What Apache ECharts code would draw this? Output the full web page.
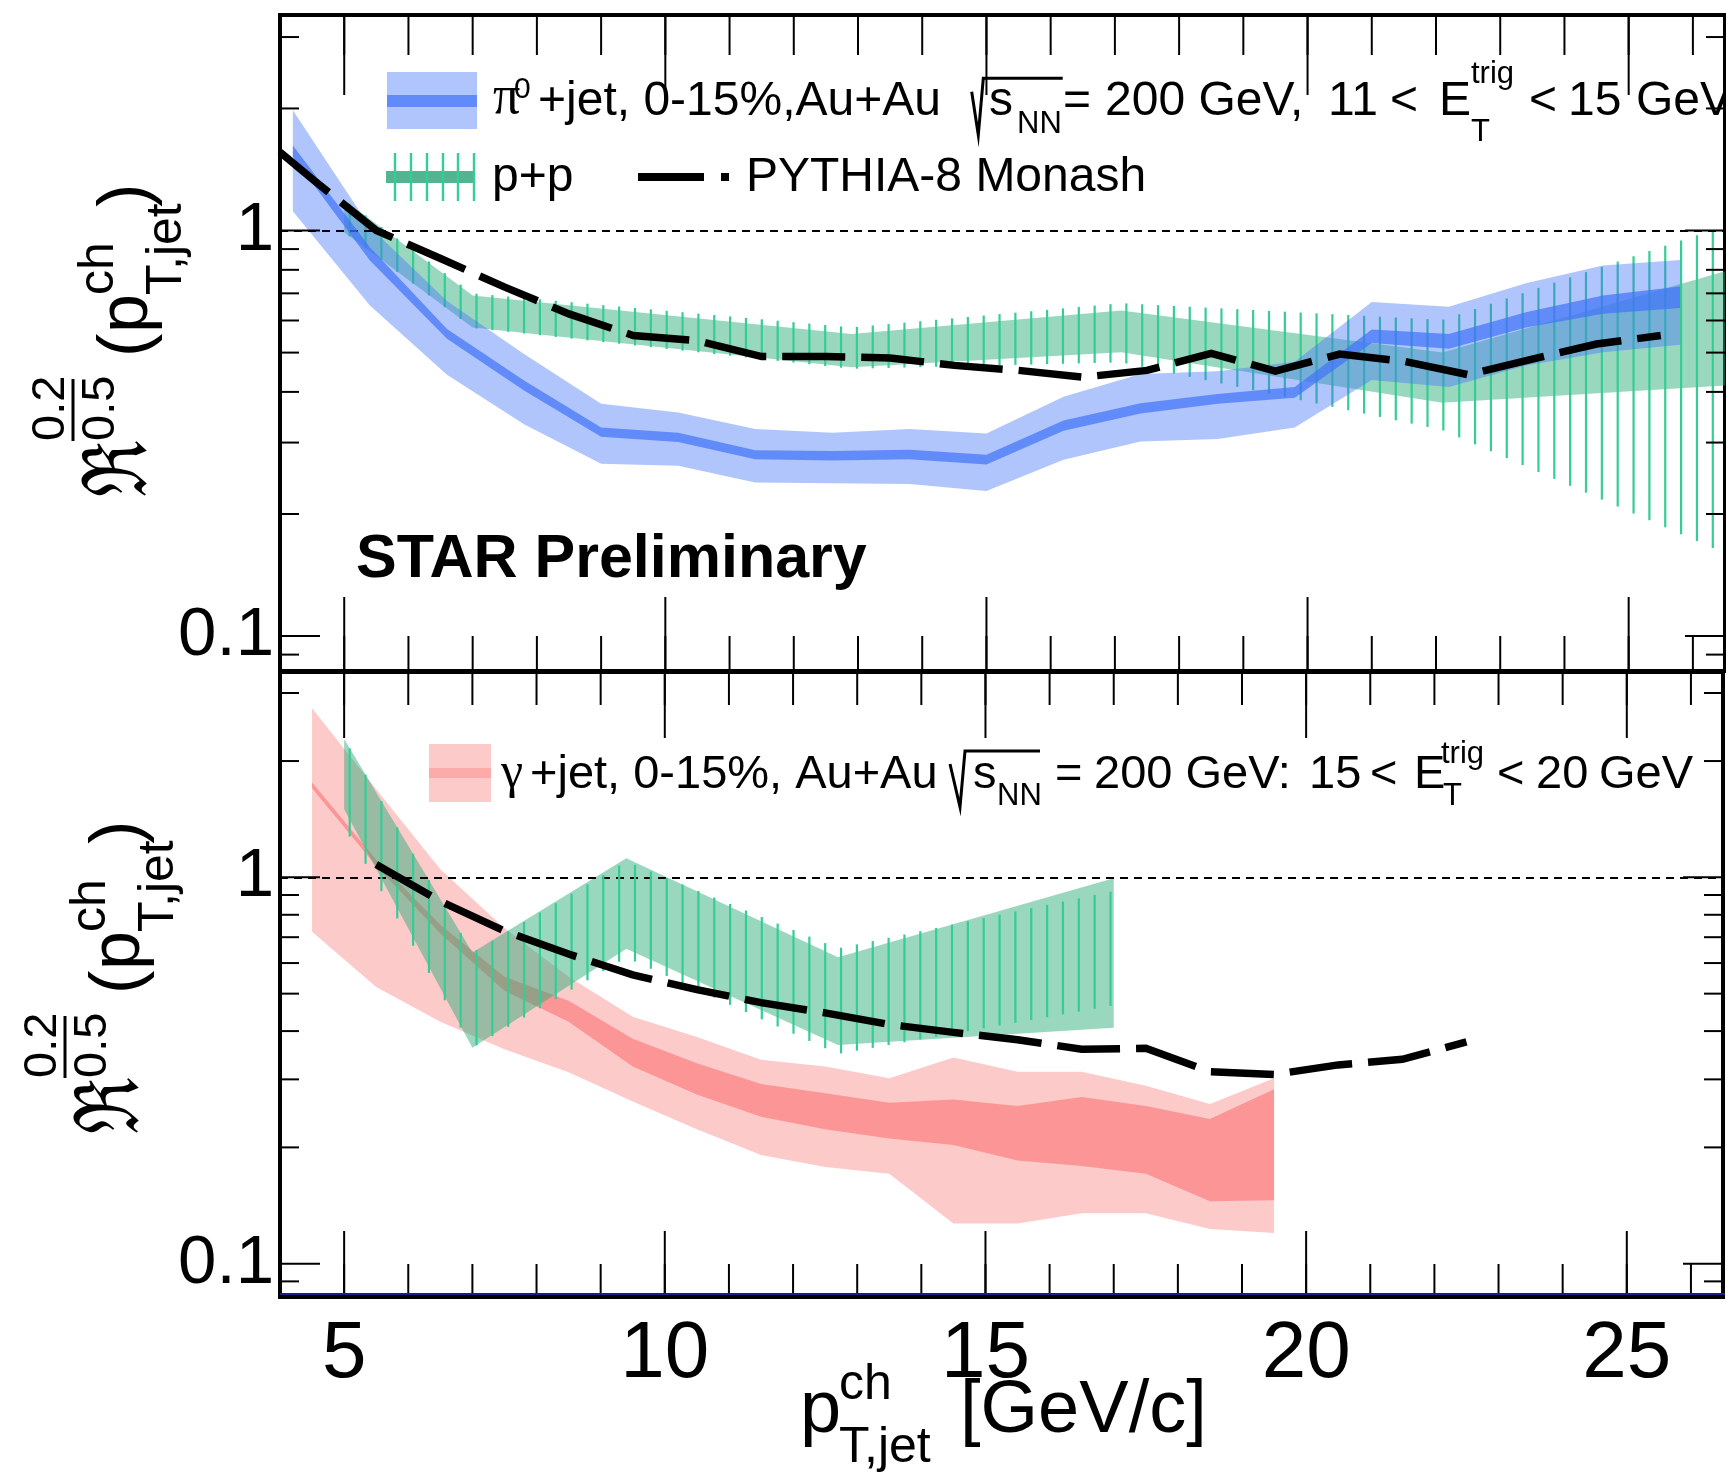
<!DOCTYPE html>
<html><head><meta charset="utf-8">
<script src="https://cdn.jsdelivr.net/npm/echarts@6/dist/echarts.min.js"></script>
<style>html,body{margin:0;padding:0;background:#fff}#c{width:1726px;height:1484px}</style>
</head><body><div id="c"></div>
<script>
// ---------------- data ----------------
const xMin = 4, xMax = 26.5, yMin = 0.082, yMax = 3.4;
const xMinorTicks = [5,6,7,8,9,10,11,12,13,14,15,16,17,18,19,20,21,22,23,24,25,26];
const xMajorTicks = [5,10,15,20,25];
const xLabelValues = [5,10,15,20,25];
const yMajorTicks = [0.1, 1];
const yMinorTicks = [0.09,0.2,0.3,0.4,0.5,0.6,0.7,0.8,0.9,2,3];

// top panel: pi0+jet Au+Au
const pi0X      = [4.2,5.4,6.6,7.8,9.0,10.2,11.4,12.6,13.8,15.0,16.2,17.4,18.6,19.8,21.0,22.2,23.4,24.6,25.8];
const pi0SysHi  = [1.98,1.02,0.67,0.496,0.374,0.356,0.324,0.317,0.324,0.316,0.389,0.443,0.450,0.475,0.666,0.649,0.741,0.820,0.846];
const pi0SysLo  = [1.116,0.653,0.441,0.333,0.266,0.263,0.239,0.238,0.237,0.228,0.272,0.302,0.306,0.327,0.428,0.411,0.465,0.501,0.523];
const pi0StatHi = [1.62,0.910,0.572,0.427,0.327,0.317,0.287,0.286,0.288,0.280,0.340,0.375,0.395,0.411,0.570,0.556,0.629,0.691,0.728];
const pi0StatLo = [1.52,0.843,0.541,0.403,0.310,0.301,0.273,0.271,0.273,0.265,0.321,0.354,0.374,0.387,0.528,0.511,0.577,0.623,0.644];

// top panel: p+p
const ppTopX       = [5.0,7.0,12.9,17.1,22.1,26.5];
const ppTopHi      = [1.19,0.691,0.556,0.635,0.50,0.794];
const ppTopLo      = [0.99,0.577,0.460,0.501,0.376,0.415];
const ppTopHatchHi = [1.19,0.70,0.577,0.662,0.602,1.027];
const ppTopHatchLo = [0.99,0.575,0.456,0.473,0.322,0.160];

// top panel: PYTHIA-8 Monash
const pyTopX = [4.0,4.5,5.5,6.5,7.5,8.5,9.5,10.5,11.5,12.5,13.5,14.5,15.5,16.5,17.5,18.5,19.5,20.5,21.5,22.5,23.5,24.5,25.5];
const pyTopY = [1.56,1.34,1.0,0.853,0.725,0.623,0.551,0.535,0.489,0.489,0.485,0.465,0.452,0.435,0.452,0.498,0.450,0.496,0.476,0.441,0.482,0.525,0.551];

// bottom panel: gamma+jet Au+Au
const gamX      = [4.5,5.5,6.5,7.5,8.5,9.5,10.5,11.5,12.5,13.5,14.5,15.5,16.5,17.5,18.5,19.5];
const gamSysHi  = [2.74,1.69,1.05,0.738,0.553,0.436,0.386,0.337,0.324,0.302,0.342,0.314,0.314,0.289,0.259,0.302];
const gamStatHi = [1.76,1.11,0.754,0.553,0.479,0.382,0.330,0.292,0.276,0.261,0.266,0.256,0.270,0.256,0.237,0.283];
const gamStatLo = [1.70,1.07,0.716,0.509,0.423,0.324,0.274,0.240,0.223,0.211,0.203,0.185,0.179,0.171,0.145,0.146];
const gamSysLo  = [0.723,0.520,0.423,0.359,0.313,0.263,0.223,0.191,0.178,0.171,0.127,0.127,0.135,0.135,0.123,0.120];

// bottom panel: p+p
const ppBotX       = [5.0,7.0,9.4,12.7,17.0];
const ppBotHi      = [2.28,0.639,1.12,0.621,0.994];
const ppBotLo      = [1.50,0.362,0.653,0.368,0.408];
const ppBotHatchHi = [2.28,0.639,1.10,0.655,0.922];
const ppBotHatchLo = [1.35,0.362,0.62,0.349,0.466];

// bottom panel: PYTHIA-8 Monash
const pyBotX = [5.5,6.5,7.5,8.5,9.5,10.5,11.5,12.5,13.5,14.5,15.5,16.5,17.5,18.5,19.5,20.5,21.5,22.5];
const pyBotY = [1.08,0.867,0.726,0.633,0.559,0.512,0.474,0.446,0.416,0.397,0.380,0.359,0.361,0.314,0.309,0.327,0.338,0.375];

// ---------------- styling ----------------
const FONT = 'Liberation Sans';
const BLUE_SYS = 'rgba(66,116,246,0.42)', BLUE_STAT = 'rgba(66,116,246,0.72)';
const RED_SYS = 'rgba(250,80,80,0.30)', RED_STAT = 'rgba(250,80,80,0.43)';
const GREEN_FILL = 'rgba(40,170,120,0.47)', GREEN_HATCH = '#35cc95';
const HATCH_SP = 15.85, HATCH_PHASE = 1.0;
const GRIDS = [{left:280, top:15, width:1445, height:656}, {left:280, top:672, width:1445, height:625}];
const TICKLEN = [{tMaj:80,tMin:40,bMaj:74,bMin:35},{tMaj:66,tMin:33,bMaj:66,bMin:33}];

function band(gi, xs, hi, lo, color, z){
  return {type:'custom', xAxisIndex:gi, yAxisIndex:gi, z, silent:true, clip:true, animation:false,
    data:[[xs[0], hi[0]]],
    renderItem:(params, api)=>{
      const pts=[];
      for(let i=0;i<xs.length;i++) pts.push(api.coord([xs[i],hi[i]]));
      for(let i=xs.length-1;i>=0;i--) pts.push(api.coord([xs[i],lo[i]]));
      return {type:'polygon', shape:{points:pts}, style:{fill:color}};
    }};
}
function hatch(gi, xs, hi, lo, color, z){
  return {type:'custom', xAxisIndex:gi, yAxisIndex:gi, z, silent:true, clip:true, animation:false,
    data:[[xs[0], hi[0]]],
    renderItem:(params, api)=>{
      const up=xs.map((x,i)=>api.coord([x,hi[i]]));
      const dn=xs.map((x,i)=>api.coord([x,lo[i]]));
      const x0=up[0][0], x1=up[up.length-1][0];
      const ch=[];
      let px=Math.ceil((x0-HATCH_PHASE)/HATCH_SP)*HATCH_SP+HATCH_PHASE;
      for(; px<=x1; px+=HATCH_SP){
        let k=0; while(k<up.length-2 && up[k+1][0]<px) k++;
        const t=(px-up[k][0])/(up[k+1][0]-up[k][0]);
        const yt=up[k][1]+t*(up[k+1][1]-up[k][1]);
        const yb=dn[k][1]+t*(dn[k+1][1]-dn[k][1]);
        ch.push({type:'line', shape:{x1:px,y1:yt,x2:px,y2:yb}, style:{stroke:color, lineWidth:2.2}});
      }
      return {type:'group', children:ch};
    }};
}
function pythia(gi, xs, ys){
  return {type:'line', xAxisIndex:gi, yAxisIndex:gi, z:8, silent:true, animation:false,
    symbol:'none', showSymbol:false, data:xs.map((x,i)=>[x,ys[i]]),
    lineStyle:{color:'#000', width:7.5, type:[63,16], cap:'butt', join:'miter'},
    markLine:{silent:true, animation:false, symbol:['none','none'], label:{show:false},
      lineStyle:{color:'#000', width:2, type:[8,6]}, data:[{yAxis:1}]}};
}
function ticks(gi){
  const L=TICKLEN[gi];
  return {type:'custom', xAxisIndex:gi, yAxisIndex:gi, z:9, silent:true, clip:false, animation:false,
    data:[[5,1]],
    renderItem:(params, api)=>{
      const cs=params.coordSys, ch=[];
      const ln=(x1,y1,x2,y2)=>ch.push({type:'line', shape:{x1,y1,x2,y2}, style:{stroke:'#000', lineWidth:2}});
      const top=cs.y, bot=cs.y+cs.height, lef=cs.x, rig=cs.x+cs.width;
      xMinorTicks.forEach(v=>{const p=api.coord([v,1])[0]; ln(p,top,p,top+L.tMin); ln(p,bot,p,bot-L.bMin);});
      xMajorTicks.forEach(v=>{const p=api.coord([v,1])[0]; ln(p,top,p,top+L.tMaj); ln(p,bot,p,bot-L.bMaj);});
      yMinorTicks.forEach(v=>{const p=api.coord([xMin,v])[1]; ln(lef,p,lef+19,p); ln(rig,p,rig-19,p);});
      yMajorTicks.forEach(v=>{const p=api.coord([xMin,v])[1]; ln(lef,p,lef+40,p); ln(rig,p,rig-40,p);});
      return {type:'group', children:ch};
    }};
}

// text helper: (x, base) = left end of the alphabetic baseline
function T(x, base, s, size, o){
  o=o||{};
  const ff=o.ff||FONT, fw=o.fw||'normal';
  return {type:'text', z:50, silent:true, x:x, y:base, scaleX:o.sx||1, scaleY:o.sy||1,
    style:{x:0, y:-0.3465*size, text:s,
    font:fw+' '+size+'px "'+ff+'"', fill:'#000', align:'left', verticalAlign:'middle',
    textAlign:'left', textVerticalAlign:'middle'}};
}
function radical(pts){
  return {type:'polyline', z:50, silent:true, shape:{points:pts}, style:{stroke:'#000', lineWidth:3, fill:null}};
}
function yTitle(ox, oy){
  return {type:'group', x:ox, y:oy, rotation:Math.PI/2, z:50, children:[
    T(0, 2, 'ℜ', 66, {ff:'DejaVu Serif', sy:1.35}),
    T(56, -85, '0.2', 47),
    {type:'line', z:50, shape:{x1:56,y1:-79,x2:118,y2:-79}, style:{stroke:'#000', lineWidth:3}},
    T(56, -35, '0.5', 47),
    T(140, 0, '(', 70),
    T(164, 0, 'p', 70),
    T(202, -35, 'ch', 50),
    T(202, 33, 'T,jet', 50),
    T(290, 0, ')', 70)
  ]};
}

const graphics = [
  // y titles
  yTitle(152, 497),
  yTitle(144, 1134),
  // x title
  T(800, 1437, 'p', 74), T(839, 1403, 'ch', 50), T(839, 1466, 'T,jet', 50), T(960, 1437, '[GeV/c]', 74),
  // STAR Preliminary
  T(356, 581, 'STAR Preliminary', 61, {fw:'bold'}),
  // top legend: pi0+jet
  {type:'rect', z:40, silent:true, shape:{x:387,y:72,width:90,height:57}, style:{fill:BLUE_SYS}},
  {type:'rect', z:41, silent:true, shape:{x:387,y:95,width:90,height:12}, style:{fill:BLUE_STAT}},
  T(493, 118, 'π', 54, {ff:'Liberation Serif'}), T(514, 100, '0', 30),
  T(538, 118, '+jet, 0-15%,Au+Au', 48),
  radical([[971.7,91.7],[978.3,135],[983.3,78.3],[1062.7,78.3]]),
  T(989, 118, 's', 48), T(1017, 135, 'NN', 31),
  T(1063, 118, '=', 48), T(1105, 118, '200 GeV,', 48), T(1328, 118, '11', 48), T(1390, 118, '<', 48),
  T(1439, 118, 'E', 48), T(1471, 143, 'T', 31), T(1471, 85, 'trig', 31),
  T(1529, 118, '<', 48), T(1568, 118, '15', 48), T(1636, 118, 'GeV', 48),
  // top legend: p+p
  {type:'rect', z:40, silent:true, shape:{x:386,y:171,width:88,height:12}, style:{fill:'#52b592'}},
  ...[395,411,427,443,458,474].map(x=>({type:'line', z:41, silent:true, shape:{x1:x,y1:153,x2:x,y2:201}, style:{stroke:GREEN_HATCH, lineWidth:2.4}})),
  T(492, 194, 'p+p', 48),
  // top legend: PYTHIA
  {type:'line', z:41, silent:true, shape:{x1:638,y1:177,x2:704,y2:177}, style:{stroke:'#000', lineWidth:8}},
  {type:'line', z:41, silent:true, shape:{x1:721,y1:177,x2:729,y2:177}, style:{stroke:'#000', lineWidth:8}},
  T(746, 194, 'PYTHIA-8 Monash', 48),
  // bottom legend: gamma+jet
  {type:'rect', z:40, silent:true, shape:{x:429,y:744,width:62,height:58}, style:{fill:RED_SYS}},
  {type:'rect', z:41, silent:true, shape:{x:429,y:768,width:62,height:10}, style:{fill:'#fcaaaa'}},
  T(501, 791, 'γ', 50, {ff:'Liberation Serif'}),
  T(530, 791, '+jet, 0-15%, Au+Au', 47),
  radical([[950,764],[960,807],[965,751],[1040,751]]),
  T(973, 791, 's', 47), T(997, 807, 'NN', 31),
  T(1055, 791, '=', 47), T(1094, 791, '200 GeV:', 47), T(1309, 791, '15', 47), T(1370, 791, '<', 47),
  T(1414, 791, 'E', 47), T(1443, 807, 'T', 31), T(1441, 765, 'trig', 31),
  T(1497, 791, '<', 47), T(1536, 791, '20', 47), T(1599, 791, 'GeV', 47),
  // blue frame line at bottom of lower panel
  {type:'line', z:30, silent:true, shape:{x1:GRIDS[1].left, y1:GRIDS[1].top+GRIDS[1].height-3, x2:GRIDS[1].left+GRIDS[1].width, y2:GRIDS[1].top+GRIDS[1].height-3}, style:{stroke:'#1c1c8c', lineWidth:2}}
];

const yLabelFmt = v => (Math.abs(v-0.1)<1e-9 ? '0.1' : (Math.abs(v-1)<1e-9 ? '1' : ''));
function yAx(gi){
  return {gridIndex:gi, type:'log', logBase:10, min:yMin, max:yMax,
    axisLine:{show:false}, axisTick:{show:false}, splitLine:{show:false}, minorTick:{show:false},
    axisLabel:{show:true, fontSize:69, fontFamily:FONT, color:'#000', margin:6, showMinLabel:false, showMaxLabel:false, formatter:yLabelFmt}};
}

const option = {
  animation:false,
  backgroundColor:'#fff',
  grid: GRIDS.map(g=>({left:g.left, top:g.top, width:g.width, height:g.height, show:true, borderColor:'#000', borderWidth:4, backgroundColor:'transparent', containLabel:false})),
  xAxis: [
    {gridIndex:0, type:'value', min:xMin, max:xMax, axisLine:{show:false}, axisTick:{show:false}, axisLabel:{show:false}, splitLine:{show:false}},
    {gridIndex:1, type:'value', min:xMin, max:xMax, interval:1, axisLine:{show:false}, axisTick:{show:false}, splitLine:{show:false},
      axisLabel:{show:true, fontSize:80, lineHeight:80, fontFamily:FONT, color:'#000', margin:18, showMinLabel:true, showMaxLabel:true,
        formatter: v => (xLabelValues.indexOf(Math.round(v*1000)/1000) >= 0 ? String(v) : '')}}
  ],
  yAxis: [yAx(0), yAx(1)],
  series: [
    band(0, ppTopX, ppTopHi, ppTopLo, GREEN_FILL, 2),
    hatch(0, ppTopX, ppTopHatchHi, ppTopHatchLo, GREEN_HATCH, 3),
    band(0, pi0X, pi0SysHi, pi0SysLo, BLUE_SYS, 4),
    band(0, pi0X, pi0StatHi, pi0StatLo, BLUE_STAT, 5),
    pythia(0, pyTopX, pyTopY),
    ticks(0),
    band(1, gamX, gamSysHi, gamSysLo, RED_SYS, 2),
    band(1, gamX, gamStatHi, gamStatLo, RED_STAT, 3),
    band(1, ppBotX, ppBotHi, ppBotLo, GREEN_FILL, 4),
    hatch(1, ppBotX, ppBotHatchHi, ppBotHatchLo, GREEN_HATCH, 5),
    pythia(1, pyBotX, pyBotY),
    ticks(1)
  ],
  graphic: graphics
};
const chart = echarts.init(document.getElementById('c'), null, {renderer:'canvas', width:1726, height:1484});
chart.setOption(option);
</script>
</body></html>
